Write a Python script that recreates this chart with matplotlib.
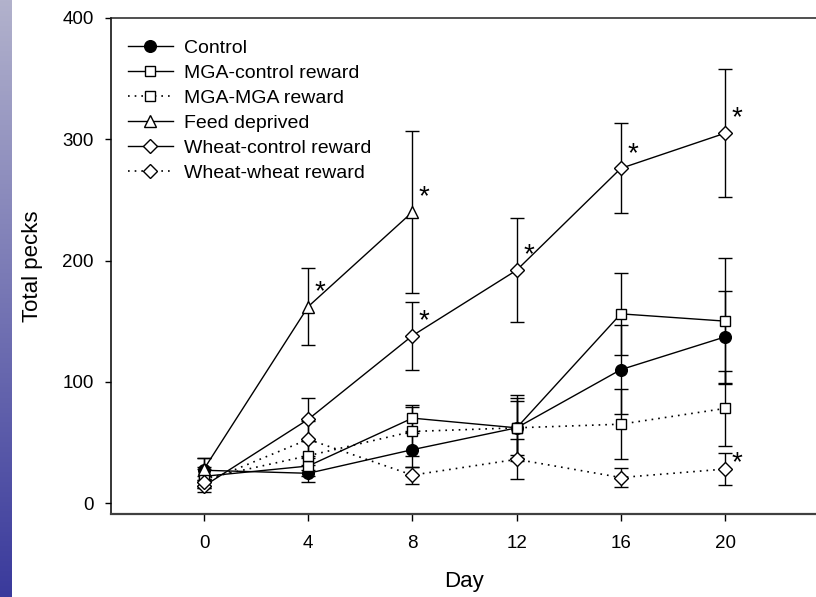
import numpy as np
import matplotlib
matplotlib.use("Agg")
import matplotlib.pyplot as plt
from matplotlib.colors import LinearSegmentedColormap

plt.rcParams['font.family'] = ['Liberation Sans', 'DejaVu Sans']

days = [0, 4, 8, 12, 16, 20]
fd_days = [0, 4, 8]

control = [27, 24.5, 44, 62, 110, 137]
control_err = [10, 7, 14, 27, 37, 38]
mga_control = [22, 30.5, 70, 62, 156, 150]
mga_control_err = [8, 8, 11, 25, 34, 52]
mga_mga = [20, 39, 59, 62, 65, 78]
mga_mga_err = [8, 12, 20, 22, 29, 31]
feed_deprived = [28, 162, 240]
feed_deprived_err = [9, 32, 67]
wheat_control = [14, 69, 138, 192, 276, 305]
wheat_control_err = [5, 18, 28, 43, 37, 53]
wheat_wheat = [17, 52.5, 23, 36, 21, 28]
wheat_wheat_err = [5, 15, 7, 16.5, 8, 13]

# significance stars at (day, value)
star_points = [(4, 162), (8, 240), (8, 138), (12, 192), (16, 276), (20, 305), (20, 28)]

x_ticks = [0, 4, 8, 12, 16, 20]
y_ticks = [0, 100, 200, 300, 400]

W, H = 816, 597
fig = plt.figure(figsize=(W / 100, H / 100), dpi=100)

# left decorative gradient strip
gax = fig.add_axes([0, 0, 12 / W, 1])
grad = np.linspace(0, 1, 256).reshape(-1, 1)
cmap = LinearSegmentedColormap.from_list('strip', ['#b2b2cc', '#3a3a9c'])
gax.imshow(grad, aspect='auto', cmap=cmap, extent=[0, 1, 0, 1], origin='upper')
gax.axis('off')

ax = fig.add_axes([111 / W, (H - 514) / H, (W - 111) / W, (514 - 18) / H])
ax.set_xlim(-3.57, 23.49)
ax.set_ylim(-9.07, 400)

lw = 1.0
dot = (0, (1, 3))
series = [
    ("Control", days, control, control_err, dict(marker='o', ms=8.4, mfc='black', ls='-', lw=lw)),
    ("MGA-control reward", days, mga_control, mga_control_err, dict(marker='s', ms=7.7, mfc='white', ls='-', lw=lw)),
    ("MGA-MGA reward", days, mga_mga, mga_mga_err, dict(marker='s', ms=7.7, mfc='white', ls=dot, lw=1.2)),
    ("Feed deprived", fd_days, feed_deprived, feed_deprived_err, dict(marker='^', ms=8.8, mfc='white', ls='-', lw=lw)),
    ("Wheat-control reward", days, wheat_control, wheat_control_err, dict(marker='D', ms=7.3, mfc='white', ls='-', lw=lw)),
    ("Wheat-wheat reward", days, wheat_wheat, wheat_wheat_err, dict(marker='D', ms=7.3, mfc='white', ls=dot, lw=1.2)),
]

for i, (label, xs, ys, es, st) in enumerate(series):
    ax.errorbar(xs, ys, yerr=es, fmt='none', ecolor='black', elinewidth=1.0,
                capsize=5.2, capthick=1.0, zorder=2)
    ax.plot(xs, ys, color='black', mec='black', mew=1.0, label=label, zorder=3 + i, **st)

for k, (dx, dy) in enumerate(star_points):
    yoff = 5.5 if k < len(star_points) - 1 else -0.5
    ax.annotate('*', xy=(dx, dy), xytext=(8.5, yoff), textcoords='offset points',
                ha='center', va='baseline', fontsize=20, color='black', zorder=10)

ax.set_xticks(x_ticks)
ax.set_yticks(y_ticks)
ax.tick_params(axis='x', direction='out', length=5, width=1.0, pad=10, labelsize=13.5, colors='black')
ax.tick_params(axis='y', direction='out', length=4.3, width=1.0, pad=8, labelsize=13.5, colors='black')

for side in ['left', 'top', 'bottom']:
    ax.spines[side].set_linewidth(1.1)
ax.spines['left'].set_color('black')
ax.spines['top'].set_color('#202020')
ax.spines['bottom'].set_color('#404040')
ax.spines['bottom'].set_linewidth(1.6)
ax.spines['right'].set_visible(False)

ax.set_xlabel('Day', fontsize=16, va='center')
ax.xaxis.set_label_coords(0.5, (514 - 582) / 496)
ax.set_ylabel('Total pecks', fontsize=16, va='center')
ax.yaxis.set_label_coords((33 - 111) / 705, 0.5)

leg = ax.legend(loc='upper left', bbox_to_anchor=((128 - 111) / 705, 1 - (39 - 18) / 496),
                frameon=False, fontsize=14, handlelength=2.3, handletextpad=0.57,
                labelspacing=0.38, borderaxespad=0, borderpad=0, numpoints=1)

fig.savefig('out.png', dpi=100)
